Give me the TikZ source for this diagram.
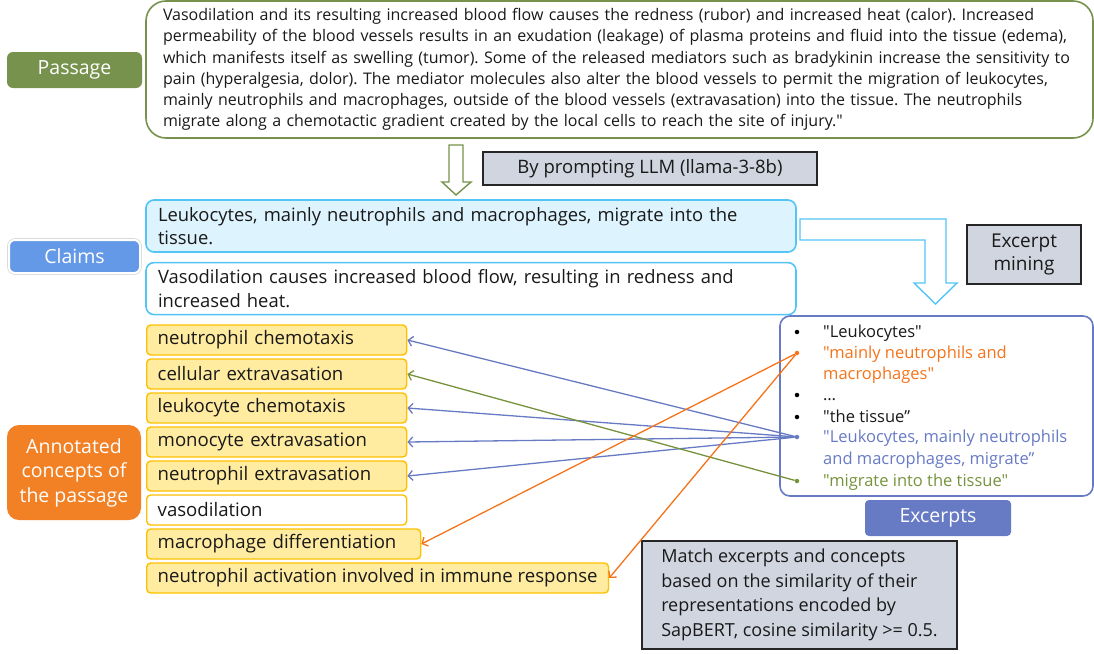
\documentclass[tikz,border=0pt]{standalone}
\usepackage{fontspec}
\setmainfont{Open Sans}[Ligatures=TeXOff]
\usetikzlibrary{arrows.meta,positioning}
\definecolor{passgreen}{RGB}{118,146,76}
\definecolor{claimblue}{RGB}{100,153,232}
\definecolor{claimline}{RGB}{82,196,245}
\definecolor{claimfill}{RGB}{221,243,253}
\definecolor{boxgray}{RGB}{209,213,224}
\definecolor{conceptfill}{RGB}{255,236,161}
\definecolor{conceptline}{RGB}{255,192,0}
\definecolor{annorange}{RGB}{242,128,36}
\definecolor{exblue}{RGB}{103,122,196}
\definecolor{exorange}{RGB}{245,115,25}
\definecolor{exgreen}{RGB}{118,146,60}
\newcommand{\setfs}[2]{\fontsize{#1}{#2}\selectfont}
\frenchspacing

\begin{document}
\begin{tikzpicture}
  [x=1pt,y=-1pt,every node/.style={font=\setfs{18.6}{24},text=black!90},
   tag/.style={rounded corners=6pt,text=white,align=center,font=\setfs{19.5}{24.5}},
   graybox/.style={fill=boxgray,draw=black!85,line width=1.6pt,align=center},
   claim/.style={draw=claimline,line width=1.6pt,rounded corners=8pt,text width=626pt,inner xsep=12pt,align=left,minimum height=52pt,font=\setfs{18.4}{23.5}},
   concept/.style={draw=conceptline,fill=conceptfill,line width=1.4pt,rounded corners=4pt,anchor=west,inner xsep=11pt,minimum height=30pt,align=left},
   item/.style={anchor=base west,inner sep=0pt,font=\setfs{16.5}{21.3}},
   dot/.style={circle,fill=#1,inner sep=0pt,minimum size=4.5pt},dot/.default=black,
   link/.style={line width=1.3pt,-{Straight Barb[length=4.5pt,width=10pt]}}]
  \useasboundingbox (0,0) rectangle (1094,653);

  \node (passage) [draw=passgreen,line width=1.6pt,rounded corners=20pt,text width=913pt,inner xsep=17pt,minimum height=137pt,align=left,font=\setfs{16}{21.3}] at (619.5,69.5)
    {Vasodilation and its resulting increased blood flow causes the redness (rubor) and increased heat (calor). Increased\\
     permeability of the blood vessels results in an exudation (leakage) of plasma proteins and fluid into the tissue (edema),\\
     which manifests itself as swelling (tumor). Some of the released mediators such as bradykinin increase the sensitivity to\\
     pain (hyperalgesia, dolor). The mediator molecules also alter the blood vessels to permit the migration of leukocytes,\\
     mainly neutrophils and macrophages, outside of the blood vessels (extravasation) into the tissue. The neutrophils\\
     migrate along a chemotactic gradient created by the local cells to reach the site of injury."};
  \node (passtag) [tag,fill=passgreen,minimum width=135pt,minimum height=36pt] at (74.5,70) {Passage};

  \draw[passgreen,line width=1.4pt] (449,145) -- (463,145) -- (463,182) -- (471,182) -- (456,195) -- (442,182) -- (449,182) -- cycle;
  \node (prompt) [graybox,minimum width=334pt,minimum height=33pt,font=\setfs{18.5}{24}] at (650,168.5) {By prompting LLM (llama-3-8b)};

  \node (claim1) [claim,fill=claimfill] at (471,226) {Leukocytes, mainly neutrophils and macrophages, migrate into the\\tissue.};
  \node (claim2) [claim,below=9pt of claim1] {Vasodilation causes increased blood flow, resulting in redness and\\increased heat.};
  \node (claimtag) [tag,fill=claimblue,draw=white,line width=2pt,preaction={draw=black!15,line width=3.6pt},minimum width=131pt,minimum height=33pt] at (74.5,256.5) {Claims};

  \draw[claimline,line width=1.4pt] (800,219) -- (946,219) -- (946,283) -- (957,283) -- (935.5,304) -- (914,283) -- (925,283) -- (925,240) -- (800,240) -- cycle;
  \node (mining) [graybox,minimum width=114pt,minimum height=59pt,font=\setfs{19}{23.5}] at (1024,254.5) {Excerpt\\mining};

  \node (excerpts) [draw=exblue,line width=1.6pt,rounded corners=10pt,minimum width=313pt,minimum height=180pt] at (936.5,406) {};
  \node (extag) [tag,fill=exblue,rounded corners=4pt,minimum width=146pt,minimum height=36pt] at (938,518) {Excerpts};

  \node (d1) [dot] at (797,332) {};
  \node (e1) [item] at (823,337.5) {"Leukocytes"};
  \node (d2) [dot=exorange] at (797,353) {};
  \node (e2) [item,text=exorange] at (823,358.5) {"mainly neutrophils and};
  \node (e2b) [item,text=exorange] at (823,379.5) {macrophages"};
  \node (d3) [dot] at (797,395) {};
  \node (e3) [item] at (823,400.5) {…};
  \node (d4) [dot] at (797,417) {};
  \node (e4) [item] at (823,422.5) {"the tissue”};
  \node (d5) [dot=exblue] at (797,437) {};
  \node (e5) [item,text=exblue] at (823,442.5) {"Leukocytes, mainly neutrophils};
  \node (e5b) [item,text=exblue] at (823,464) {and macrophages, migrate”};
  \node (d6) [dot=exgreen] at (797,481) {};
  \node (e6) [item,text=exgreen] at (823,486.5) {"migrate into the tissue"};

  \node (annotag) [tag,fill=annorange,rounded corners=12pt,minimum width=134pt,minimum height=95pt] at (74,472.5) {Annotated\\concepts of\\the passage};
  \node (c1) [concept,text width=238pt] at (146,340) {neutrophil chemotaxis};
  \node (c2) [concept,text width=238pt] at (146,374) {cellular extravasation};
  \node (c3) [concept,text width=238pt] at (146,408) {leukocyte chemotaxis};
  \node (c4) [concept,text width=238pt] at (146,442) {monocyte extravasation};
  \node (c5) [concept,text width=238pt] at (146,476) {neutrophil extravasation};
  \node (c6) [concept,text width=238pt,fill=white] at (146,510) {vasodilation};
  \node (c7) [concept,text width=252pt] at (146,544) {macrophage differentiation};
  \node (c8) [concept] at (146,578) {neutrophil activation involved in immune response};

  \node (match) [graybox,align=left,minimum width=315pt,minimum height=108pt,font=\setfs{18}{24.6}] at (799.5,595)
    {Match excerpts and concepts\\based on the similarity of their\\representations encoded by\\SapBERT, cosine similarity >= 0.5.};

  \draw[link,exblue] (d5) -- (c1.east);
  \draw[link,exblue] (d5) -- (c3.east);
  \draw[link,exblue] (d5) -- (c4.east);
  \draw[link,exblue] (d5) -- (c5.east);
  \draw[link,exgreen] (d6) -- (c2.east);
  \draw[link,exorange] (d2) -- (c7.east);
  \draw[link,exorange] (d2) -- (c8.east);
\end{tikzpicture}
\end{document}
